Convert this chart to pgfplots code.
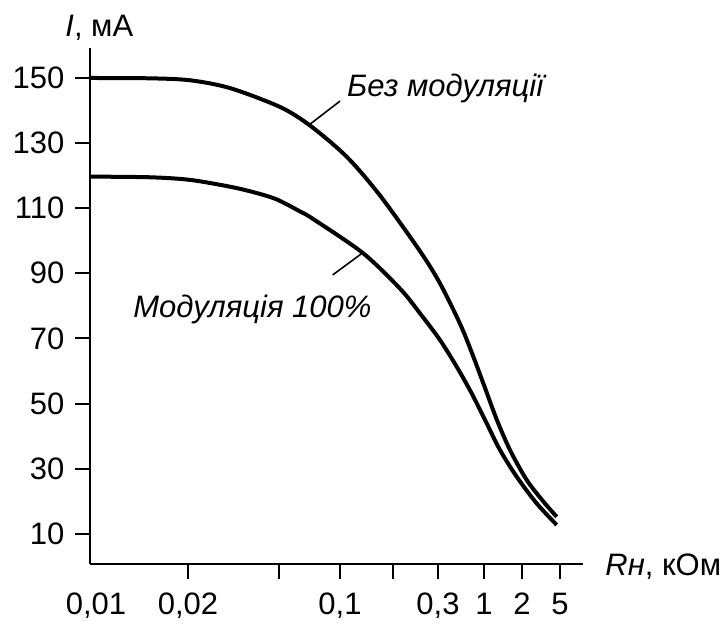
\documentclass[border=0pt]{standalone}
\usepackage{pgfplots}
\pgfplotsset{compat=1.18}
\usepackage{fontspec}
\setmainfont{Liberation Sans}

\begin{document}
\fontsize{15.5}{18}\selectfont
\begin{tikzpicture}
  % x is the position along the (non-uniform) R axis, read in picture units
  \begin{axis}[
    x=0.5pt, y=1.6275pt,
    xmin=90, xmax=583,
    ymin=0.7, ymax=159.2,
    axis lines=left,
    axis line style={-, line width=1pt},
    clip=false,
    tick align=outside,
    major tick length=7.5pt,
    tick style={line width=1pt, black},
    xtick={188,279,340,393,438,484,522,560},
    xticklabels={{0,02},{},{0,1},{},{0,3},1,2,5},
    xticklabel style={yshift=-1.5pt},
    ytick={10,30,50,70,90,110,130,150},
    /pgf/number format/assume math mode=true,
    ticklabel style={font=\fontsize{15.5}{18}\selectfont},
  ]

    % Без модуляції
    \addplot[line width=2pt, smooth] coordinates {
      (90,150) (150,149.9) (190,149.3) (230,146.9) (280,141.1) (310,135.4)
      (346.7,125.8) (380,113.9) (420,96.8) (440,86.9) (460,74.5)
      (471.7,65.7) (483.3,56.2) (496.7,45.1) (510,35.7) (526.7,26.5)
      (543.3,19.9) (556.7,15.2)
    };

    % Модуляція 100%
    \addplot[line width=2pt, smooth] coordinates {
      (90,119.7) (150,119.5) (190,118.7) (230,116.6) (255,114.8) (276.7,112.7)
      (300,109.0) (313,106.7) (363,96.2) (400,85.3) (420,77.7) (440,69.5)
      (456.7,61.3) (471.7,53.1) (486.7,43.9) (500,35.7) (516.7,27.5)
      (536.7,19.3) (556.7,12.7)
    };

    % leaders and labels
    \draw[line width=0.8pt] (axis cs:340,142.9) -- (axis cs:310,135.8);
    \draw[line width=0.8pt] (axis cs:332.7,89.5) -- (axis cs:362.7,96.3);
    \node[anchor=base west, inner sep=0] at (axis cs:346.7,144.3) {\textit{Без модуляції}};
    \node[anchor=base west, inner sep=0] at (axis cs:133,76.5) {\textit{Модуляція 100\%}};

    \node[anchor=base west, inner sep=0] at (axis cs:65,162.9) {\textit{I}, мА};
    \node[anchor=base west, inner sep=0] at (axis cs:605,-2.7) {\textit{Rн}, кОм};
    \node[anchor=north, yshift=-9pt] at (axis cs:96,0.7) {0,01};

    % page margins as in the reference
    \path (axis cs:0,-17.1) rectangle (axis cs:726,173.96);
  \end{axis}
\end{tikzpicture}
\end{document}
